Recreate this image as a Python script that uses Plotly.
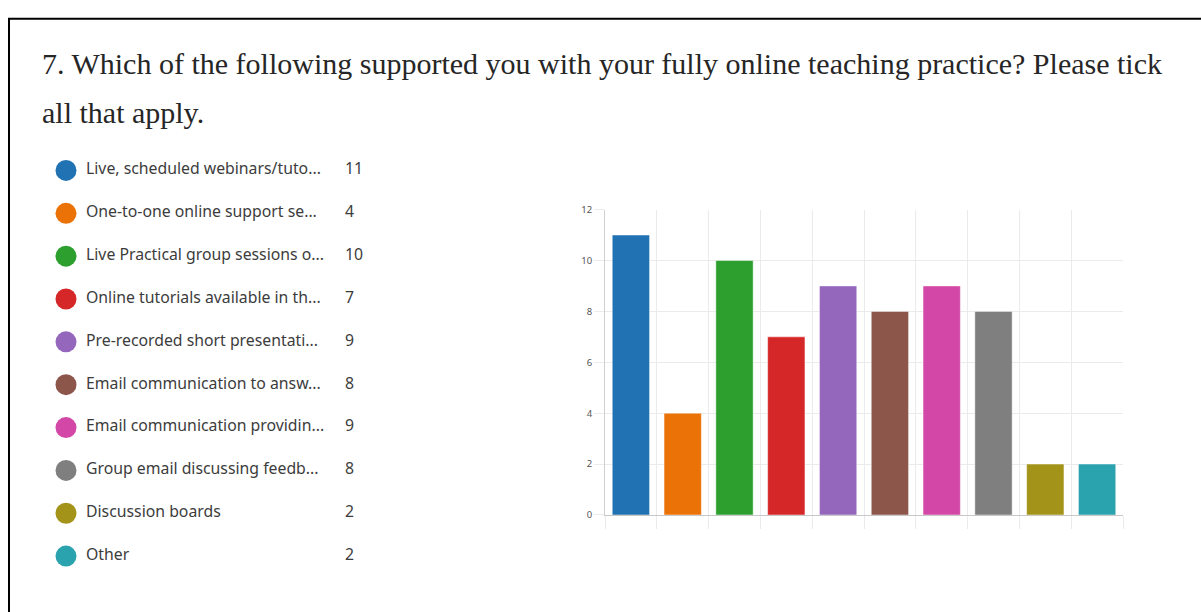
import plotly.graph_objects as go

W, H = 1201, 612

title_line1 = "7. Which of the following supported you with your fully online teaching practice? Please tick"
title_line2 = "all that apply."

legend_labels = [
    "Live, scheduled webinars/tuto...",
    "One-to-one online support se...",
    "Live Practical group sessions o...",
    "Online tutorials available in th...",
    "Pre-recorded short presentati...",
    "Email communication to answ...",
    "Email communication providin...",
    "Group email discussing feedb...",
    "Discussion boards",
    "Other",
]
counts = [11, 4, 10, 7, 9, 8, 9, 8, 2, 2]
colors = ["#2172b2", "#eb7207", "#2c9f2e", "#d62728", "#9467bd",
          "#8c564b", "#d347a6", "#7f7f7f", "#a39419", "#2aa3af"]
y_ticks = [0, 2, 4, 6, 8, 10, 12]

n = len(counts)
idx = list(range(n))

fig = go.Figure()

# Bar chart
fig.add_trace(go.Bar(
    x=idx, y=counts,
    marker=dict(color=colors, line=dict(color="rgba(255,255,255,0.45)", width=1)),
    xaxis="x", yaxis="y", showlegend=False, hoverinfo="skip",
))

# Custom legend: markers, labels, counts
fig.add_trace(go.Scatter(
    x=[66] * n, y=idx, mode="markers",
    marker=dict(color=colors, size=21, line=dict(width=0)),
    xaxis="x2", yaxis="y2", showlegend=False, hoverinfo="skip",
))
fig.add_trace(go.Scatter(
    x=[86] * n, y=idx, mode="text", text=legend_labels,
    textposition="middle right",
    textfont=dict(family="Noto Sans", size=15.8, color="#3c3c3c"),
    xaxis="x2", yaxis="y2", showlegend=False, hoverinfo="skip",
))
fig.add_trace(go.Scatter(
    x=[345] * n, y=idx, mode="text", text=[str(c) for c in counts],
    textposition="middle right",
    textfont=dict(family="Noto Sans", size=15.8, color="#3c3c3c"),
    xaxis="x2", yaxis="y2", showlegend=False, hoverinfo="skip",
))

grid_col = "#ebebeb"
fig.update_layout(
    width=W, height=H,
    margin=dict(l=0, r=0, t=0, b=0),
    paper_bgcolor="white", plot_bgcolor="white",
    bargap=0.28,
    xaxis=dict(
        domain=[605 / W, 1123 / W],
        range=[-0.5, n - 0.5],
        tickmode="array", tickvals=[i - 0.5 for i in range(n + 1)],
        showticklabels=False, showgrid=True, gridcolor=grid_col, gridwidth=1,
        ticks="outside", ticklen=13, tickcolor=grid_col,
        showline=True, linecolor="#c8c8c8", linewidth=1,
        zeroline=False, fixedrange=True,
    ),
    yaxis=dict(
        domain=[1 - 519 / H, 1 - 207 / H],
        range=[0, 12],
        tickmode="array", tickvals=y_ticks,
        showgrid=True, gridcolor=grid_col, gridwidth=1,
        ticks="outside", ticklen=10, tickcolor=grid_col,
        tickfont=dict(family="Noto Sans", size=9.5, color="#555555"),
        showline=True, linecolor="#d0d0d0", linewidth=1,
        zeroline=False, fixedrange=True,
    ),
    xaxis2=dict(
        domain=[0, 600 / W], range=[0, 600], visible=False, fixedrange=True,
    ),
    yaxis2=dict(
        domain=[0, 1], range=[(612 - 167) / 43.78, -167 / 43.78],
        visible=False, fixedrange=True, anchor="x2",
    ),
    annotations=[
        dict(x=40 / W, y=1 - 58 / H, xref="paper", yref="paper",
             xanchor="left", yanchor="middle", align="left",
             text=title_line1, showarrow=False,
             font=dict(family="Liberation Serif", size=30, color="#262626")),
        dict(x=40 / W, y=1 - 108 / H, xref="paper", yref="paper",
             xanchor="left", yanchor="middle", align="left",
             text=title_line2, showarrow=False,
             font=dict(family="Liberation Serif", size=30, color="#262626")),
    ],
    shapes=[dict(
        type="rect", xref="paper", yref="paper",
        x0=9 / W, x1=1.05, y0=-0.05, y1=1 - 12 / H,
        line=dict(color="black", width=2), fillcolor="rgba(0,0,0,0)",
    )],
)

post = (
    "document.body.style.margin='0';"
    "document.body.style.overflow='hidden';"
    "var d=document.getElementById('{plot_id}');"
    "d.style.position='fixed';d.style.top='0px';d.style.left='0px';"
)

fig.write_html(
    "out.html",
    config={"responsive": False, "displayModeBar": False},
    post_script=post,
)
